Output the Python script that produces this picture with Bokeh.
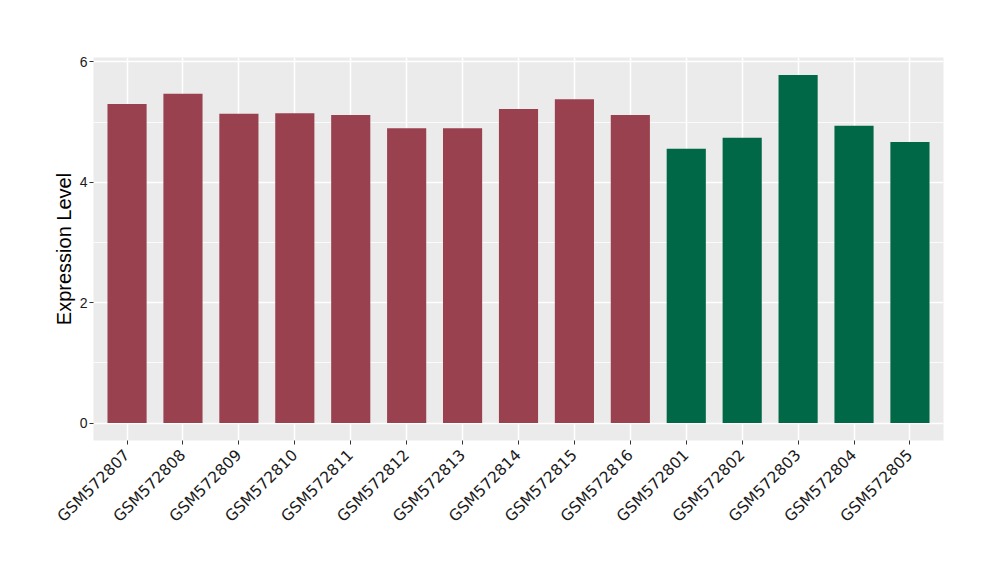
import math
from bokeh.plotting import figure
from bokeh.models import FactorRange, Range1d, ColumnDataSource, FixedTicker
from bokeh.embed import file_html
from bokeh.resources import INLINE

samples = ["GSM572807", "GSM572808", "GSM572809", "GSM572810", "GSM572811",
           "GSM572812", "GSM572813", "GSM572814", "GSM572815", "GSM572816",
           "GSM572801", "GSM572802", "GSM572803", "GSM572804", "GSM572805"]
values = [5.30, 5.47, 5.14, 5.15, 5.12, 4.90, 4.90, 5.22, 5.38, 5.12,
          4.56, 4.74, 5.785, 4.94, 4.67]
groups = ["A"] * 10 + ["B"] * 5
group_colors = {"A": "#9A4150", "B": "#006847"}
y_ticks = [0, 2, 4, 6]

colors = [group_colors[g] for g in groups]
src = ColumnDataSource(dict(x=samples, top=values, color=colors))

ymax = max(values)
p = figure(width=984, height=564, output_backend="svg", toolbar_location=None,
           x_range=FactorRange(factors=samples, range_padding=0.1,
                               range_padding_units="absolute"),
           y_range=Range1d(-0.05 * ymax, 1.05 * ymax),
           min_border_left=93, min_border_right=41, min_border_top=57,
           min_border_bottom=124)
p.outline_line_color = None
p.background_fill_color = "#EBEBEB"
p.border_fill_color = "white"

p.vbar(x="x", top="top", width=0.7, color="color", source=src, line_color=None)

font = "Liberation Sans"
# grids
p.xgrid.grid_line_color = "white"
p.xgrid.grid_line_width = 1.5
p.ygrid.grid_line_color = "white"
p.ygrid.grid_line_width = 1.5
p.ygrid.minor_grid_line_color = "white"
p.ygrid.minor_grid_line_width = 0.8
p.yaxis.ticker = FixedTicker(ticks=y_ticks, minor_ticks=[1, 3, 5])

for ax in (p.xaxis[0], p.yaxis[0]):
    ax.axis_line_color = None
    ax.major_tick_line_color = "#333333"
    ax.major_tick_out = 4
    ax.major_tick_in = 0
    ax.minor_tick_line_color = None
    ax.major_label_text_color = "#1A1A1A"

p.yaxis.major_label_text_font = font
p.yaxis.major_label_text_font_size = "14px"
p.yaxis.major_label_standoff = 2
p.yaxis.axis_label = "Expression Level"
p.yaxis.axis_label_text_font = font
p.yaxis.axis_label_text_font_size = "20px"
p.yaxis.axis_label_text_font_style = "normal"
p.yaxis.axis_label_text_color = "black"
p.yaxis.axis_label_standoff = 2

p.xaxis.major_label_text_font = "DejaVu Sans"
p.xaxis.major_label_text_font_size = "15.5px"
p.xaxis.major_label_orientation = math.pi / 4
p.xaxis.major_label_standoff = 8

open("out.html", "w").write(file_html(p, INLINE))
